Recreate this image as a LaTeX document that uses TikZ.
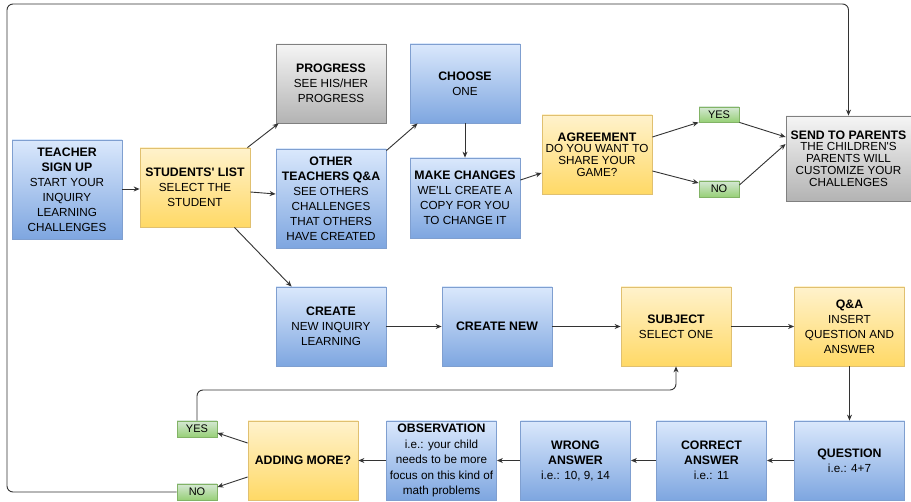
\documentclass[tikz,border=0pt]{standalone}
\usepackage{fontspec}
\setmainfont{Liberation Sans}[Ligatures=TeXOff]
\usetikzlibrary{arrows.meta}
\definecolor{blueT}{HTML}{DAE8FC}
\definecolor{blueB}{HTML}{7EA6E0}
\definecolor{blueS}{HTML}{7F9FD0}
\definecolor{yelT}{HTML}{FFF2CC}
\definecolor{yelB}{HTML}{FFD966}
\definecolor{yelS}{HTML}{E0C070}
\definecolor{grayT}{HTML}{F5F5F5}
\definecolor{grayB}{HTML}{B3B3B3}
\definecolor{grayS}{HTML}{808080}
\definecolor{grnT}{HTML}{D5E8D4}
\definecolor{grnB}{HTML}{97D077}
\definecolor{grnS}{HTML}{82B366}
\definecolor{lineC}{HTML}{333333}
\newcommand{\hdr}[1]{{\fontsize{12.3}{15}\selectfont\bfseries #1}}
\tikzset{
  base/.style={draw, rectangle, align=center, inner sep=1pt, minimum width=110pt,
    minimum height=79pt, font=\fontsize{11.7}{15}\selectfont, line width=0.8pt, text=black},
  bluebox/.style={base, draw=blueS, top color=blueT, bottom color=blueB},
  yelbox/.style={base, draw=yelS, top color=yelT, bottom color=yelB},
  graybox/.style={base, draw=grayS, top color=grayT, bottom color=grayB},
  tight/.style={font=\fontsize{11.7}{11.8}\selectfont},
  greenlab/.style={draw=grnS, rectangle, top color=grnT, bottom color=grnB, minimum width=40pt,
    minimum height=16pt, inner sep=0pt, font=\fontsize{11}{12}\selectfont, line width=0.8pt},
  conn/.style={draw=lineC, line width=0.9pt, -{Stealth[length=6pt,width=5pt]}},
}
\begin{document}
\begin{tikzpicture}[x=1pt,y=-1pt]
\fill[white] (0,0) rectangle (911,502);
\useasboundingbox (0,0) rectangle (911,502);

% top row
\node[bluebox, minimum height=99pt] (teacher) at (67,189.5) {\hdr{TEACHER}\\\hdr{SIGN UP}\\START YOUR\\INQUIRY\\LEARNING\\CHALLENGES};
\node[yelbox] (students) at (195,187.5) {\hdr{STUDENTS' LIST}\\SELECT THE\\STUDENT};
\node[graybox] (progress) at (331,83.5) {\hdr{PROGRESS}\\SEE HIS/HER\\PROGRESS};
\node[bluebox, minimum height=99pt] (other) at (331,198.5) {\hdr{OTHER}\\\hdr{TEACHERS Q\&A}\\SEE OTHERS\\CHALLENGES\\THAT OTHERS\\HAVE CREATED};
\node[bluebox] (choose) at (465,83.5) {\hdr{CHOOSE}\\ONE};
\node[bluebox, minimum height=80pt] (make) at (465,198) {\hdr{MAKE CHANGES}\\WE'LL CREATE A\\COPY FOR YOU\\TO CHANGE IT};
\node[yelbox, tight] (agree) at (597,154.5) {\hdr{AGREEMENT}\\DO YOU WANT TO\\SHARE YOUR\\GAME?};
\node[greenlab, minimum height=15pt] (yes1) at (719,114.5) {YES};
\node[greenlab] (no1) at (719,189) {NO};
\node[graybox, tight, minimum width=125pt, minimum height=85pt] (send) at (848.5,158.5) {\hdr{SEND TO PARENTS}\\THE CHILDREN'S\\PARENTS WILL\\CUSTOMIZE YOUR\\CHALLENGES};

% middle row
\node[bluebox] (create) at (331,326.5) {\hdr{CREATE}\\NEW INQUIRY\\LEARNING};
\node[bluebox] (createnew) at (497,326.5) {\hdr{CREATE NEW}};
\node[yelbox] (subject) at (676,326.5) {\hdr{SUBJECT}\\SELECT ONE};
\node[yelbox] (qa) at (849.5,326.5) {\hdr{Q\&A}\\INSERT\\QUESTION AND\\ANSWER};

% bottom row
\node[bluebox] (question) at (849.5,460.5) {\hdr{QUESTION}\\i.e.: 4+7};
\node[bluebox] (correct) at (711.5,460.5) {\hdr{CORRECT}\\\hdr{ANSWER}\\i.e.: 11};
\node[bluebox] (wrong) at (575.5,460.5) {\hdr{WRONG}\\\hdr{ANSWER}\\i.e.: 10, 9, 14};
\node[bluebox, font=\fontsize{11.7}{15.5}\selectfont] (obs) at (441.5,460.5) {\hdr{OBSERVATION}\\i.e.: your child\\needs to be more\\focus on this kind of\\math problems};
\node[yelbox] (adding) at (303,460.5) {\hdr{ADDING MORE?}};
\node[greenlab] (yes2) at (197,429) {YES};
\node[greenlab] (no2) at (197,492) {NO};

\coordinate (loopTL) at (7,4);
\coordinate (yloop) at (400,390);

% connectors
\draw[conn] (teacher.east |- 0,189) -- (students.west |- 0,189);
\draw[conn] ([xshift=-3pt]students.north east) -- ([xshift=3pt]progress.south west);
\draw[conn] ([yshift=-4.5pt]students.east) -- ([yshift=4.5pt]other.west);
\draw[conn] ([xshift=-16pt]students.south east) -- ([xshift=16pt]create.north west);
\draw[conn] ([yshift=-2pt]other.north east) -- ([xshift=8pt]choose.south west);
\draw[conn] (choose.south) -- (make.north);
\draw[conn] ([yshift=18pt]make.east) -- ([yshift=-18.5pt]agree.west);
\draw[conn] ([yshift=17.5pt]agree.east) -- (yes1.south west);
\draw[conn] ([yshift=-16.5pt]agree.east) -- ([yshift=6pt]no1.west);
\draw[conn] (yes1.south east) -- ([yshift=21.5pt]send.west);
\draw[conn] ([yshift=4pt]no1.east) -- ([yshift=14.5pt]send.west);
\draw[conn, rounded corners=6pt] (no2.west) -| (loopTL) -| (send.north);

\draw[conn] (create.east) -- (createnew.west);
\draw[conn] (createnew.east) -- (subject.west);
\draw[conn] (subject.east) -- (qa.west);
\draw[conn] (qa.south) -- (question.north);
\draw[conn] (question.west) -- (correct.east);
\draw[conn] (correct.west) -- (wrong.east);
\draw[conn] (wrong.west) -- (obs.east);
\draw[conn] (obs.west) -- (adding.east);
\draw[conn] ([yshift=17.5pt]adding.west) -- ([yshift=-4pt]yes2.east);
\draw[conn] ([yshift=-16.5pt]adding.west) -- ([yshift=5pt]no2.east);
\draw[conn, rounded corners=6pt] (yes2.north) |- (yloop) -| (subject.south);
\end{tikzpicture}
\end{document}
